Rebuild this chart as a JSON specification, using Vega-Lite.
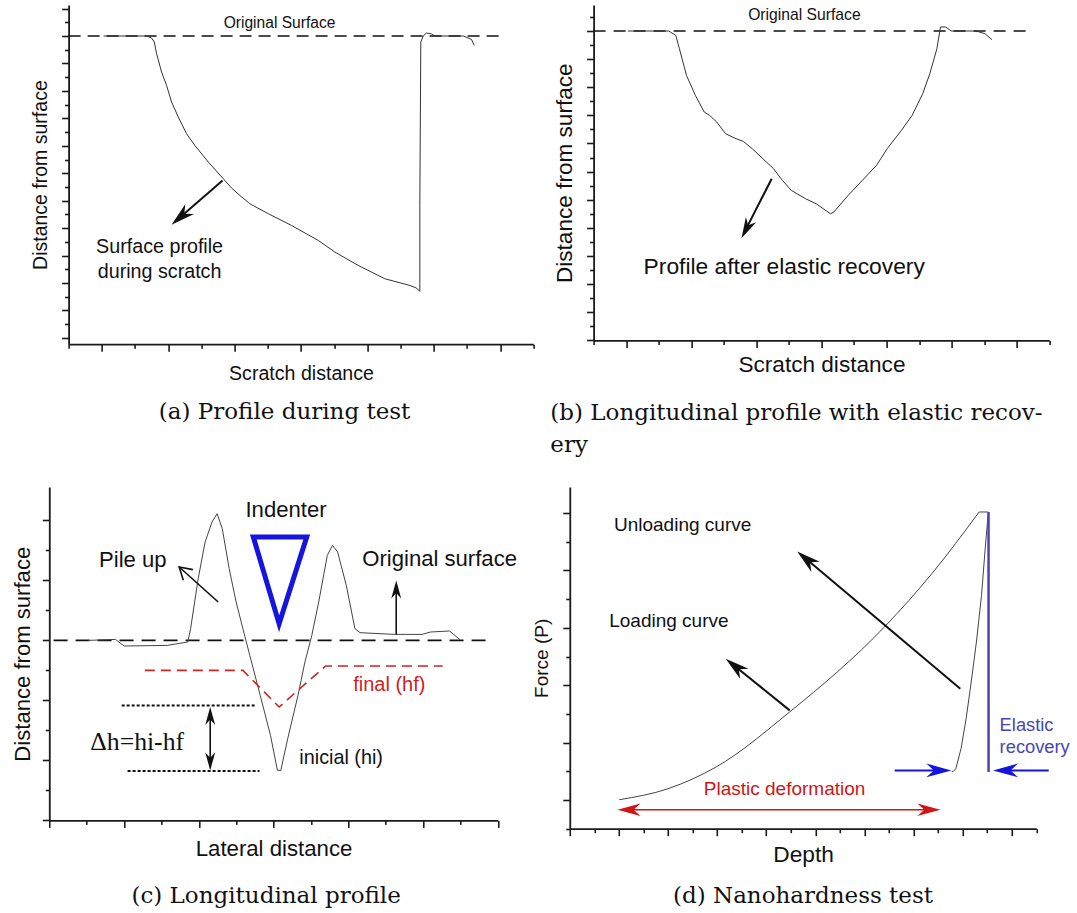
{
  "$schema": "https://vega.github.io/schema/vega-lite/v6.json",
  "background": "white",
  "padding": {"left": 11, "top": 5, "right": 5, "bottom": 5},
  "config": {
    "view": {"stroke": null},
    "axis": {"labels": false, "grid": false, "domainColor": "#1a1a1a", "domainWidth": 1.8, "tickColor": "#1a1a1a", "tickWidth": 1.6, "titleFont": "Liberation Sans", "titleFontWeight": "normal", "titleColor": "#111111"},
    "title": {"font": "DejaVu Serif", "fontSize": 23, "fontWeight": "normal", "color": "#111111"},
    "text": {"font": "Liberation Sans", "color": "#111111"}
  },
  "datasets": {
    "aProfile": [
      {"i":0,"x":1.054,"y":0},{"i":1,"x":2.349,"y":0},{"i":2,"x":2.5,"y":-0.146},{"i":3,"x":2.581,"y":-0.437},{"i":4,"x":2.651,"y":-1.29},{"i":5,"x":2.801,"y":-2.624},{"i":6,"x":2.952,"y":-3.601},{"i":7,"x":3.102,"y":-4.81},{"i":8,"x":3.304,"y":-5.904},{"i":9,"x":3.554,"y":-7.121},{"i":10,"x":3.804,"y":-7.974},{"i":11,"x":4.208,"y":-9.184},{"i":12,"x":4.66,"y":-10.401},{"i":13,"x":4.91,"y":-11.079},{"i":14,"x":5.16,"y":-11.618},{"i":15,"x":5.461,"y":-12.223},{"i":16,"x":6.015,"y":-12.952},{"i":17,"x":6.717,"y":-13.805},{"i":18,"x":7.521,"y":-14.898},{"i":19,"x":8.021,"y":-15.743},{"i":20,"x":8.726,"y":-16.72},{"i":21,"x":9.527,"y":-17.69},{"i":22,"x":10.28,"y":-18.178},{"i":23,"x":10.482,"y":-18.367},{"i":24,"x":10.581,"y":-18.615},{"i":25,"x":10.581,"y":-12.347},{"i":26,"x":10.611,"y":-0.437},{"i":27,"x":10.684,"y":0},{"i":28,"x":10.783,"y":0.219},{"i":29,"x":10.934,"y":0.146},{"i":30,"x":11.033,"y":0},{"i":31,"x":11.889,"y":0},{"i":32,"x":12.139,"y":-0.248},{"i":33,"x":12.22,"y":-0.685}
    ],
    "aDash": [{"x":0,"y":0,"x2":13.1,"y2":0}],
    "aShaft": [{"x":4.639,"y":-10.525,"x2":3.283,"y2":-13.375}],
    "aHead": [{"x":3.102,"y":-13.754}],
    "aText1": [{"x":6.355,"y":0.97,"t":"Original Surface"}],
    "aText2": [{"x":2.741,"y":-14.614,"t":"Surface profile\nduring scratch"}],
    "bProfile": [
      {"i":0,"x":1.054,"y":0},{"i":1,"x":2.307,"y":0},{"i":2,"x":2.525,"y":-0.313},{"i":3,"x":2.636,"y":-1.259},{"i":4,"x":2.854,"y":-3.158},{"i":5,"x":3.127,"y":-4.58},{"i":6,"x":3.398,"y":-5.761},{"i":7,"x":3.564,"y":-6.003},{"i":8,"x":3.782,"y":-6.472},{"i":9,"x":4.055,"y":-7.304},{"i":10,"x":4.326,"y":-7.61},{"i":11,"x":4.599,"y":-7.852},{"i":12,"x":4.873,"y":-8.371},{"i":13,"x":5.201,"y":-9.083},{"i":14,"x":5.527,"y":-9.794},{"i":15,"x":5.8,"y":-10.626},{"i":16,"x":6.074,"y":-11.337},{"i":17,"x":6.51,"y":-11.928},{"i":18,"x":6.836,"y":-12.284},{"i":19,"x":7.275,"y":-12.995},{"i":20,"x":7.382,"y":-12.873},{"i":21,"x":7.819,"y":-11.693},{"i":22,"x":8.255,"y":-10.626},{"i":23,"x":8.691,"y":-9.559},{"i":24,"x":9.02,"y":-8.371},{"i":25,"x":9.456,"y":-7.07},{"i":26,"x":9.785,"y":-6.003},{"i":27,"x":10.111,"y":-4.459},{"i":28,"x":10.329,"y":-3.037},{"i":29,"x":10.547,"y":-1.259},{"i":30,"x":10.657,"y":0.284},{"i":31,"x":10.82,"y":0.284},{"i":32,"x":10.983,"y":0},{"i":33,"x":11.748,"y":0},{"i":34,"x":12.022,"y":-0.192},{"i":35,"x":12.24,"y":-0.619}
    ],
    "bDash": [{"x":0,"y":0,"x2":13.44,"y2":0}],
    "bShaft": [{"x":5.472,"y":-10.505,"x2":4.654,"y2":-14.218}],
    "bHead": [{"x":4.544,"y":-14.744}],
    "bText1": [{"x":6.476,"y":1.11,"t":"Original Surface"}],
    "bText2": [{"x":5.856,"y":-16.785,"t":"Profile after elastic recovery"}],
    "cProfile": [
      {"i":0,"x":1.036,"y":0},{"i":1,"x":1.771,"y":0.033},{"i":2,"x":2.002,"y":-0.187},{"i":3,"x":3.155,"y":-0.167},{"i":4,"x":3.706,"y":-0.053},{"i":5,"x":3.781,"y":0.39},{"i":6,"x":3.984,"y":2.057},{"i":7,"x":4.169,"y":3.28},{"i":8,"x":4.354,"y":3.947},{"i":9,"x":4.49,"y":4.223},{"i":10,"x":4.629,"y":3.723},{"i":11,"x":4.814,"y":2.39},{"i":12,"x":4.999,"y":1.28},{"i":13,"x":5.181,"y":0.39},{"i":14,"x":5.365,"y":-0.5},{"i":15,"x":5.644,"y":-1.833},{"i":16,"x":5.919,"y":-3.167},{"i":17,"x":6.104,"y":-4.333},{"i":18,"x":6.195,"y":-4.333},{"i":19,"x":6.379,"y":-3.277},{"i":20,"x":6.655,"y":-1.833},{"i":21,"x":6.84,"y":-0.72},{"i":22,"x":7.024,"y":0.167},{"i":23,"x":7.209,"y":1.28},{"i":24,"x":7.439,"y":2.833},{"i":25,"x":7.578,"y":3.167},{"i":26,"x":7.715,"y":2.947},{"i":27,"x":7.947,"y":1.833},{"i":28,"x":8.178,"y":0.39},{"i":29,"x":8.314,"y":0.257},{"i":30,"x":9.237,"y":0.2},{"i":31,"x":9.973,"y":0.2},{"i":32,"x":10.203,"y":0.28},{"i":33,"x":10.712,"y":0.313},{"i":34,"x":10.988,"y":0.023}
    ],
    "cFinal": [{"i":0,"x":2.556,"y":-1.0},{"i":1,"x":5.181,"y":-1.0},{"i":2,"x":6.149,"y":-2.22},{"i":3,"x":7.394,"y":-0.853},{"i":4,"x":10.527,"y":-0.853}],
    "cTri": [{"i":0,"x":5.459,"y":3.447},{"i":1,"x":6.888,"y":3.447},{"i":2,"x":6.149,"y":0.557},{"i":3,"x":5.459,"y":3.447},{"i":4,"x":6.888,"y":3.447}],
    "cDash": [{"x":0.115,"y":0,"x2":11.68,"y2":0}],
    "cDots": [{"x":1.937,"y":-2.167,"x2":5.504,"y2":-2.167},{"x":2.095,"y":-4.353,"x2":5.625,"y2":-4.353}],
    "cShafts": [{"x":4.519,"y":1.28,"x2":3.476,"y2":2.447},{"x":9.283,"y":0.2,"x2":9.283,"y2":1.733},{"x":4.306,"y":-2.487,"x2":4.306,"y2":-4.067}],
    "cHeadUp": [{"x":9.283,"y":2.0},{"x":4.306,"y":-2.22}],
    "cHeadDown": [{"x":4.306,"y":-4.333}],
    "cOpenHead": [{"x":3.476,"y":2.447}],
    "cText": [{"x":6.334,"y":4.333,"t":"Indenter"},{"x":2.234,"y":2.667,"t":"Pile up"},{"x":10.444,"y":2.723,"t":"Original surface"}],
    "cFinalText": [{"x":9.098,"y":-1.5,"t":"final (hf)"}],
    "cInitText": [{"x":7.808,"y":-3.92,"t":"inicial (hi)"}],
    "cDelta": [{"x":2.352,"y":-3.387,"t":"Δh=hi-hf"}],
    "dLoad": [
      {"x":2.012,"y":1.01},{"x":4.004,"y":1.394},{"x":5.959,"y":2.15},{"x":8.969,"y":4.077},{"x":12.863,"y":7.073},{"x":14.745,"y":8.885},{"x":16.672,"y":11.035}
    ],
    "dUnload": [
      {"i":0,"x":16.672,"y":11.035},{"i":1,"x":17.047,"y":11.035},{"i":2,"x":16.908,"y":9.641},{"i":3,"x":16.77,"y":8.129},{"i":4,"x":16.562,"y":6.505},{"i":5,"x":16.35,"y":5.111},{"i":6,"x":16.143,"y":3.833},{"i":7,"x":15.935,"y":2.787},{"i":8,"x":15.723,"y":2.091},{"i":9,"x":15.625,"y":1.997},{"i":10,"x":15.556,"y":1.997}
    ],
    "dBlueV": [{"x":17.056,"y":1.975,"x2":17.056,"y2":11.035}],
    "dBlueShafts": [{"x":13.234,"y":2.031,"x2":15.2,"y2":2.031},{"x":19.507,"y":2.031,"x2":17.6,"y2":2.031}],
    "dBlueHeadR": [{"x":15.541,"y":2.031}],
    "dBlueHeadL": [{"x":17.237,"y":2.031}],
    "dRedShaft": [{"x":2.4,"y":0.662,"x2":14.6,"y2":0.662}],
    "dRedHeadL": [{"x":1.943,"y":0.662}],
    "dRedHeadR": [{"x":15.096,"y":0.662}],
    "dBlackShafts": [{"x":8.957,"y":4.122,"x2":6.603,"y2":5.749},{"x":15.906,"y":4.878,"x2":9.511,"y2":9.481}],
    "dHeadLoad": [{"x":6.35,"y":5.923}],
    "dHeadUnload": [{"x":9.263,"y":9.662}],
    "dText": [{"x":1.8,"y":10.592,"t":"Unloading curve"},{"x":1.605,"y":7.223,"t":"Loading curve"}],
    "dRedText": [{"x":8.749,"y":1.369,"t":"Plastic deformation"}],
    "dBlueText": [{"x":17.507,"y":3.885,"t":"Elastic\nrecovery"}]
  },
  "spacing": 30,
  "center": true,
  "vconcat": [
    {
      "spacing": 15,
      "hconcat": [
        {
          "width": 464.7,
          "height": 339.2,
          "title": {"text": "(a) Profile during test", "orient": "bottom", "anchor": "middle", "frame": "group", "dx": -16.4, "offset": 18.4, "baseline": "top"},
          "encoding": {
            "x": {"field": "x", "type": "quantitative", "scale": {"domain": [0, 14], "nice": false, "zero": false},
              "axis": {"title": "Scratch distance", "titleFontSize": 19.6, "titlePadding": 12, "values": [0,1,2,3,4,5,6,7,8,9,10,11,12,13,14], "tickSize": {"condition": {"test": "datum.value % 2 !== 0", "value": 7}, "value": 4}}},
            "y": {"field": "y", "type": "quantitative", "scale": {"domain": [-22.46, 2.26], "nice": false, "zero": false},
              "axis": {"title": "Distance from surface", "titleFontSize": 19.5, "titlePadding": 10.6, "values": [-22,-21,-20,-19,-18,-17,-16,-15,-14,-13,-12,-11,-10,-9,-8,-7,-6,-5,-4,-3,-2,-1,0,1,2], "tickSize": {"condition": {"test": "datum.value % 2 === 0", "value": 7}, "value": 4}}}
          },
          "layer": [
            {"data": {"name": "aDash"}, "mark": {"type": "rule", "color": "#111111", "strokeWidth": 1.6, "strokeDash": [12, 7]}, "encoding": {"x2": {"field": "x2"}, "y2": {"field": "y2"}}},
            {"data": {"name": "aProfile"}, "mark": {"type": "line", "color": "#333333", "strokeWidth": 1}, "encoding": {"order": {"field": "i", "type": "quantitative"}}},
            {"data": {"name": "aShaft"}, "mark": {"type": "rule", "color": "#111111", "strokeWidth": 2}, "encoding": {"x2": {"field": "x2"}, "y2": {"field": "y2"}}},
            {"data": {"name": "aHead"}, "mark": {"type": "point", "shape": "M0,0 L0.55,2 L0,1.4 L-0.55,2 Z", "filled": true, "opacity": 1, "size": 576, "angle": 229.1, "color": "#111111"}},
            {"data": {"name": "aText1"}, "mark": {"type": "text", "fontSize": 15.6, "align": "center", "baseline": "middle"}, "encoding": {"text": {"field": "t"}}},
            {"data": {"name": "aText2"}, "mark": {"type": "text", "fontSize": 19.7, "align": "center", "baseline": "top", "lineBreak": "\n", "lineHeight": 25}, "encoding": {"text": {"field": "t"}}}
          ]
        },
        {
          "width": 455.7,
          "height": 335.4,
          "title": {"text": ["(b) Longitudinal profile with elastic recov-", "ery"], "orient": "bottom", "anchor": "start", "frame": "group", "dx": -43.3, "offset": 26.3, "baseline": "top", "lineHeight": 32},
          "encoding": {
            "x": {"field": "x", "type": "quantitative", "scale": {"domain": [0, 14], "nice": false, "zero": false},
              "axis": {"title": "Scratch distance", "titleFontSize": 22.6, "titlePadding": 4.9, "values": [0,1,2,3,4,5,6,7,8,9,10,11,12,13,14], "tickSize": {"condition": {"test": "datum.value % 2 !== 0", "value": 7}, "value": 4}}},
            "y": {"field": "y", "type": "quantitative", "scale": {"domain": [-22.006, 1.849], "nice": false, "zero": false},
              "axis": {"title": "Distance from surface", "titleFontSize": 22.6, "titlePadding": 9.8, "values": [-22,-21,-20,-19,-18,-17,-16,-15,-14,-13,-12,-11,-10,-9,-8,-7,-6,-5,-4,-3,-2,-1,0,1], "tickSize": {"condition": {"test": "datum.value % 2 === 0", "value": 7}, "value": 4}}}
          },
          "layer": [
            {"data": {"name": "bDash"}, "mark": {"type": "rule", "color": "#111111", "strokeWidth": 1.6, "strokeDash": [12, 8]}, "encoding": {"x2": {"field": "x2"}, "y2": {"field": "y2"}}},
            {"data": {"name": "bProfile"}, "mark": {"type": "line", "color": "#333333", "strokeWidth": 1}, "encoding": {"order": {"field": "i", "type": "quantitative"}}},
            {"data": {"name": "bShaft"}, "mark": {"type": "rule", "color": "#111111", "strokeWidth": 2}, "encoding": {"x2": {"field": "x2"}, "y2": {"field": "y2"}}},
            {"data": {"name": "bHead"}, "mark": {"type": "point", "shape": "M0,0 L0.55,2 L0,1.4 L-0.55,2 Z", "filled": true, "opacity": 1, "size": 441, "angle": 207, "color": "#111111"}},
            {"data": {"name": "bText1"}, "mark": {"type": "text", "fontSize": 15.7, "align": "center", "baseline": "middle"}, "encoding": {"text": {"field": "t"}}},
            {"data": {"name": "bText2"}, "mark": {"type": "text", "fontSize": 22.8, "align": "center", "baseline": "middle"}, "encoding": {"text": {"field": "t"}}}
          ]
        }
      ]
    },
    {
      "spacing": 14.5,
      "hconcat": [
        {
          "width": 448.5,
          "height": 333.4,
          "title": {"text": "(c) Longitudinal profile", "orient": "bottom", "anchor": "middle", "frame": "group", "dx": -7.4, "offset": 24.8, "baseline": "top"},
          "encoding": {
            "x": {"field": "x", "type": "quantitative", "scale": {"domain": [0, 12], "nice": false, "zero": false},
              "axis": {"title": "Lateral distance", "titleFontSize": 22.2, "titlePadding": 9.5, "values": [0,1,2,3,4,5,6,7,8,9,10,11,12], "tickSize": {"condition": {"test": "datum.value % 2 === 0", "value": 7}, "value": 4}}},
            "y": {"field": "y", "type": "quantitative", "scale": {"domain": [-6, 5.113], "nice": false, "zero": false},
              "axis": {"title": "Distance from surface", "titleFontSize": 22.1, "titlePadding": 7.1, "values": [-6,-5,-4,-3,-2,-1,0,1,2,3,4], "tickSize": {"condition": {"test": "datum.value % 2 === 0", "value": 7}, "value": 4}}}
          },
          "layer": [
            {"data": {"name": "cDash"}, "mark": {"type": "rule", "color": "#111111", "strokeWidth": 1.8, "strokeDash": [14, 8]}, "encoding": {"x2": {"field": "x2"}, "y2": {"field": "y2"}}},
            {"data": {"name": "cProfile"}, "mark": {"type": "line", "color": "#444444", "strokeWidth": 1}, "encoding": {"order": {"field": "i", "type": "quantitative"}}},
            {"data": {"name": "cFinal"}, "mark": {"type": "line", "color": "#cc2424", "strokeWidth": 1.6, "strokeDash": [10, 6]}, "encoding": {"order": {"field": "i", "type": "quantitative"}}},
            {"data": {"name": "cDots"}, "mark": {"type": "rule", "color": "#111111", "strokeWidth": 2, "strokeDash": [3, 2]}, "encoding": {"x2": {"field": "x2"}, "y2": {"field": "y2"}}},
            {"data": {"name": "cShafts"}, "mark": {"type": "rule", "color": "#111111", "strokeWidth": 1.6}, "encoding": {"x2": {"field": "x2"}, "y2": {"field": "y2"}}},
            {"data": {"name": "cHeadUp"}, "mark": {"type": "point", "shape": "M0,0 L0.55,2 L0,1.4 L-0.55,2 Z", "filled": true, "opacity": 1, "size": 324, "angle": 0, "color": "#111111"}},
            {"data": {"name": "cHeadDown"}, "mark": {"type": "point", "shape": "M0,0 L0.55,2 L0,1.4 L-0.55,2 Z", "filled": true, "opacity": 1, "size": 324, "angle": 180, "color": "#111111"}},
            {"data": {"name": "cOpenHead"}, "mark": {"type": "point", "shape": "M-0.6,1 L0,0 L0.6,1", "filled": false, "opacity": 1, "size": 576, "angle": 311.9, "color": "#111111", "strokeWidth": 1.6}},
            {"data": {"name": "cTri"}, "mark": {"type": "line", "color": "#1515e0", "strokeWidth": 5, "strokeJoin": "miter"}, "encoding": {"order": {"field": "i", "type": "quantitative"}}},
            {"data": {"name": "cText"}, "mark": {"type": "text", "fontSize": 22.1, "align": "center", "baseline": "middle"}, "encoding": {"text": {"field": "t"}}},
            {"data": {"name": "cFinalText"}, "mark": {"type": "text", "fontSize": 20, "align": "center", "baseline": "middle", "color": "#cc2424"}, "encoding": {"text": {"field": "t"}}},
            {"data": {"name": "cInitText"}, "mark": {"type": "text", "fontSize": 19.8, "align": "center", "baseline": "middle"}, "encoding": {"text": {"field": "t"}}},
            {"data": {"name": "cDelta"}, "mark": {"type": "text", "font": "Liberation Serif", "fontSize": 25.7, "align": "center", "baseline": "middle"}, "encoding": {"text": {"field": "t"}}}
          ]
        },
        {
          "width": 466.5,
          "height": 341.7,
          "title": {"text": "(d) Nanohardness test", "orient": "bottom", "anchor": "middle", "frame": "group", "dx": 0, "offset": 19, "baseline": "top"},
          "encoding": {
            "x": {"field": "x", "type": "quantitative", "scale": {"domain": [0, 19], "nice": false, "zero": false},
              "axis": {"title": "Depth", "titleFontSize": 22.7, "titlePadding": 6.5, "values": [0,1,2,3,4,5,6,7,8,9,10,11,12,13,14,15,16,17,18,19], "tickSize": {"condition": {"test": "datum.value % 2 === 0", "value": 7}, "value": 4}}},
            "y": {"field": "y", "type": "quantitative", "scale": {"domain": [0, 11.906], "nice": false, "zero": false},
              "axis": {"title": "Force (P)", "titleFontSize": 19, "titlePadding": 10.7, "values": [0,1,2,3,4,5,6,7,8,9,10,11], "tickSize": {"condition": {"test": "datum.value % 2 !== 0", "value": 7}, "value": 4}}}
          },
          "layer": [
            {"data": {"name": "dLoad"}, "mark": {"type": "line", "color": "#444444", "strokeWidth": 1, "interpolate": "monotone"}},
            {"data": {"name": "dUnload"}, "mark": {"type": "line", "color": "#444444", "strokeWidth": 1}, "encoding": {"order": {"field": "i", "type": "quantitative"}}},
            {"data": {"name": "dBlueV"}, "mark": {"type": "rule", "color": "#4646b4", "strokeWidth": 2.5}, "encoding": {"x2": {"field": "x2"}, "y2": {"field": "y2"}}},
            {"data": {"name": "dBlueShafts"}, "mark": {"type": "rule", "color": "#1414dc", "strokeWidth": 2}, "encoding": {"x2": {"field": "x2"}, "y2": {"field": "y2"}}},
            {"data": {"name": "dBlueHeadR"}, "mark": {"type": "point", "shape": "M0,0 L0.55,2 L0,1.4 L-0.55,2 Z", "filled": true, "opacity": 1, "size": 625, "angle": 90, "color": "#1414dc"}},
            {"data": {"name": "dBlueHeadL"}, "mark": {"type": "point", "shape": "M0,0 L0.55,2 L0,1.4 L-0.55,2 Z", "filled": true, "opacity": 1, "size": 625, "angle": 270, "color": "#1414dc"}},
            {"data": {"name": "dRedShaft"}, "mark": {"type": "rule", "color": "#d01515", "strokeWidth": 1.6}, "encoding": {"x2": {"field": "x2"}, "y2": {"field": "y2"}}},
            {"data": {"name": "dRedHeadL"}, "mark": {"type": "point", "shape": "M0,0 L0.55,2 L0,1.4 L-0.55,2 Z", "filled": true, "opacity": 1, "size": 529, "angle": 270, "color": "#d01515"}},
            {"data": {"name": "dRedHeadR"}, "mark": {"type": "point", "shape": "M0,0 L0.55,2 L0,1.4 L-0.55,2 Z", "filled": true, "opacity": 1, "size": 529, "angle": 90, "color": "#d01515"}},
            {"data": {"name": "dBlackShafts"}, "mark": {"type": "rule", "color": "#111111", "strokeWidth": 2}, "encoding": {"x2": {"field": "x2"}, "y2": {"field": "y2"}}},
            {"data": {"name": "dHeadLoad"}, "mark": {"type": "point", "shape": "M0,0 L0.55,2 L0,1.4 L-0.55,2 Z", "filled": true, "opacity": 1, "size": 576, "angle": 308.9, "color": "#111111"}},
            {"data": {"name": "dHeadUnload"}, "mark": {"type": "point", "shape": "M0,0 L0.55,2 L0,1.4 L-0.55,2 Z", "filled": true, "opacity": 1, "size": 576, "angle": 310.1, "color": "#111111"}},
            {"data": {"name": "dText"}, "mark": {"type": "text", "fontSize": 19, "align": "left", "baseline": "middle"}, "encoding": {"text": {"field": "t"}}},
            {"data": {"name": "dRedText"}, "mark": {"type": "text", "fontSize": 19, "align": "center", "baseline": "middle", "color": "#d01515"}, "encoding": {"text": {"field": "t"}}},
            {"data": {"name": "dBlueText"}, "mark": {"type": "text", "fontSize": 18.3, "align": "left", "baseline": "top", "lineBreak": "\n", "lineHeight": 21.6, "color": "#4646b4"}, "encoding": {"text": {"field": "t"}}}
          ]
        }
      ]
    }
  ]
}
